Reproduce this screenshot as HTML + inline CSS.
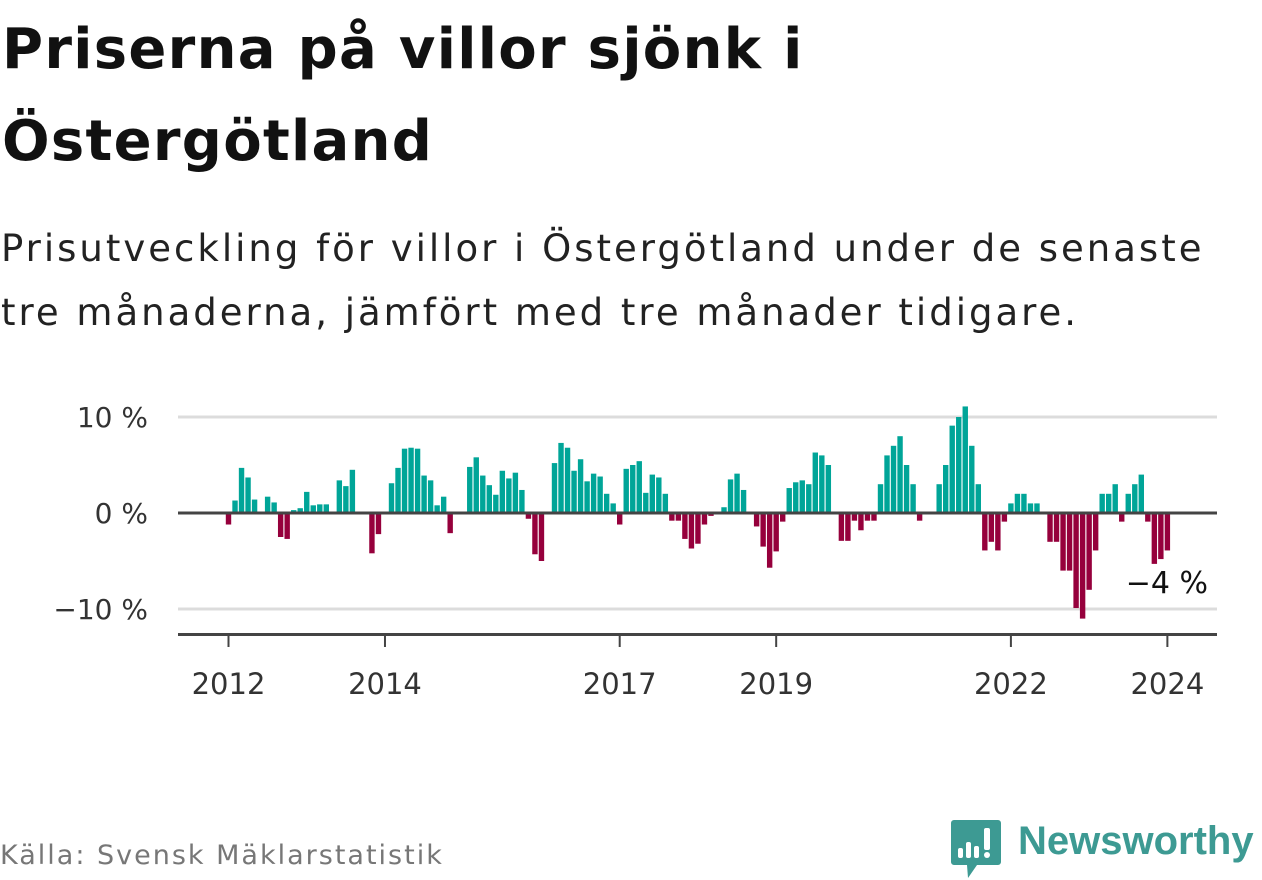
<!DOCTYPE html>
<html><head><meta charset="utf-8">
<style>
html,body{margin:0;padding:0;background:#fff;}
body{width:1262px;height:879px;position:relative;overflow:hidden;font-family:"DejaVu Sans","Liberation Sans",sans-serif;color:#111;}
#title{position:absolute;left:2px;top:4px;margin:0;font-size:56px;font-weight:bold;line-height:92px;width:1200px;color:#111;letter-spacing:1.3px;white-space:nowrap;}
#subtitle{position:absolute;left:1px;top:217px;margin:0;font-size:37px;line-height:64px;color:#222;width:1260px;letter-spacing:3px;white-space:nowrap;}
#source{position:absolute;left:0;top:840px;font-size:27px;color:#777;letter-spacing:2px;}
#logo{position:absolute;left:951px;top:820px;}
#logo-text{position:absolute;left:1018px;top:819px;font-family:"Liberation Sans",sans-serif;font-size:40px;font-weight:bold;color:#3d9a93;}
svg text{font-family:"DejaVu Sans","Liberation Sans",sans-serif;}
</style></head>
<body>
<h1 id="title">Priserna på villor sjönk i<br>Östergötland</h1>
<p id="subtitle">Prisutveckling för villor i Östergötland under de senaste<br>tre månaderna, jämfört med tre månader tidigare.</p>
<svg id="chart" width="1262" height="879" style="position:absolute;left:0;top:0"></svg>
<div id="source">Källa: Svensk Mäklarstatistik</div>
<svg id="logo" width="50" height="60" viewBox="0 0 50 60">
<path d="M3 0H47a3 3 0 0 1 3 3V42a3 3 0 0 1-3 3H26L17 58 16 45H3a3 3 0 0 1-3-3V3a3 3 0 0 1 3-3Z" fill="#3d9a93"/>
<rect x="7" y="28" width="5" height="10" rx="2" fill="#fff"/>
<rect x="15" y="22" width="5" height="16" rx="2" fill="#fff"/>
<rect x="23" y="26" width="5" height="12" rx="2" fill="#fff"/>
<rect x="33" y="8" width="6" height="22" rx="2" fill="#fff"/>
<circle cx="36" cy="35" r="3" fill="#fff"/>
</svg>
<div id="logo-text">Newsworthy</div>
<script>
const values = [
-1.2,1.3,4.7,3.7,1.4,0,1.7,1.1,-2.5,-2.7,0.3,0.5,
2.2,0.8,0.9,0.9,0,3.4,2.8,4.5,0,0,-4.2,-2.2,
0,3.1,4.7,6.7,6.8,6.7,3.9,3.4,0.8,1.7,-2.1,0,
0,4.8,5.8,3.9,2.9,1.9,4.4,3.6,4.2,2.4,-0.6,-4.3,
-5.0,0,5.2,7.3,6.8,4.4,5.6,3.3,4.1,3.8,2.0,1.0,
-1.2,4.6,5.0,5.4,2.1,4.0,3.7,2.0,-0.8,-0.8,-2.7,-3.7,
-3.2,-1.2,-0.3,0,0.6,3.5,4.1,2.4,0.1,-1.4,-3.5,-5.7,
-4.0,-0.9,2.6,3.2,3.4,3.0,6.3,6.0,5.0,0,-2.9,-2.9,
-0.8,-1.8,-0.8,-0.8,3.0,6.0,7.0,8.0,5.0,3.0,-0.8,0,
0,3.0,5.0,9.1,10.0,11.1,7.0,3.0,-3.9,-3.0,-3.9,-0.9,
1.0,2.0,2.0,1.0,1.0,0,-3.0,-3.0,-6.0,-6.0,-9.9,-11.0,
-8.0,-3.9,2.0,2.0,3.0,-0.9,2.0,3.0,4.0,-0.9,-5.3,-4.8,
-3.9];
const yTicks = [10,0,-10];
const yTickLabels = ["10 %","0 %","\u221210 %"];
const xTickYears = [2012,2014,2017,2019,2022,2024];
const lastLabel = "\u22124 %";

const NS="http://www.w3.org/2000/svg";
const svg=document.getElementById('chart');
const x0=228.5, monthW=6.52, y0=513, pxPer=9.6;
const xScale=i=>x0+i*monthW;
const yScale=v=>y0-v*pxPer;
function mk(tag,attrs){const e=document.createElementNS(NS,tag);for(const k in attrs)e.setAttribute(k,attrs[k]);svg.appendChild(e);return e;}

yTicks.forEach((t,k)=>{
  if(t!==0){
    const g=mk('line',{x1:178,x2:1217,y1:yScale(t),y2:yScale(t),stroke:'#dcdcdc','stroke-width':3});
    
    
  }
  const tx=mk('text',{x:148,y:yScale(t)+10,'text-anchor':'end','font-size':28,fill:'#333'});
  tx.textContent=yTickLabels[k];
  
  
});

values.forEach((v,i)=>{
  if(v===0)return;
  const y=v>0?yScale(v):y0;
  const r=mk('rect',{x:xScale(i)-2.7,y:y,width:5.4,height:Math.abs(v)*pxPer,fill:v>0?'#00a598':'#96003c'});
  
  
});

const zl=mk('line',{x1:178,x2:1217,y1:y0,y2:y0,stroke:'#444','stroke-width':3});


const ax=mk('line',{x1:178,x2:1217,y1:634.5,y2:634.5,stroke:'#444','stroke-width':3});



xTickYears.forEach(yr=>{
  const x=xScale((yr-2012)*12);
  const t=mk('line',{x1:x,x2:x,y1:634,y2:647,stroke:'#444','stroke-width':2});
  
  
  const tx=mk('text',{x:x,y:694,'text-anchor':'middle','font-size':29,fill:'#333'});
  tx.textContent=yr;
  
  
});

const lab=mk('text',{x:1208,y:593,'text-anchor':'end','font-size':30,fill:'#111'});
lab.textContent=lastLabel;


</script>
</body></html>
